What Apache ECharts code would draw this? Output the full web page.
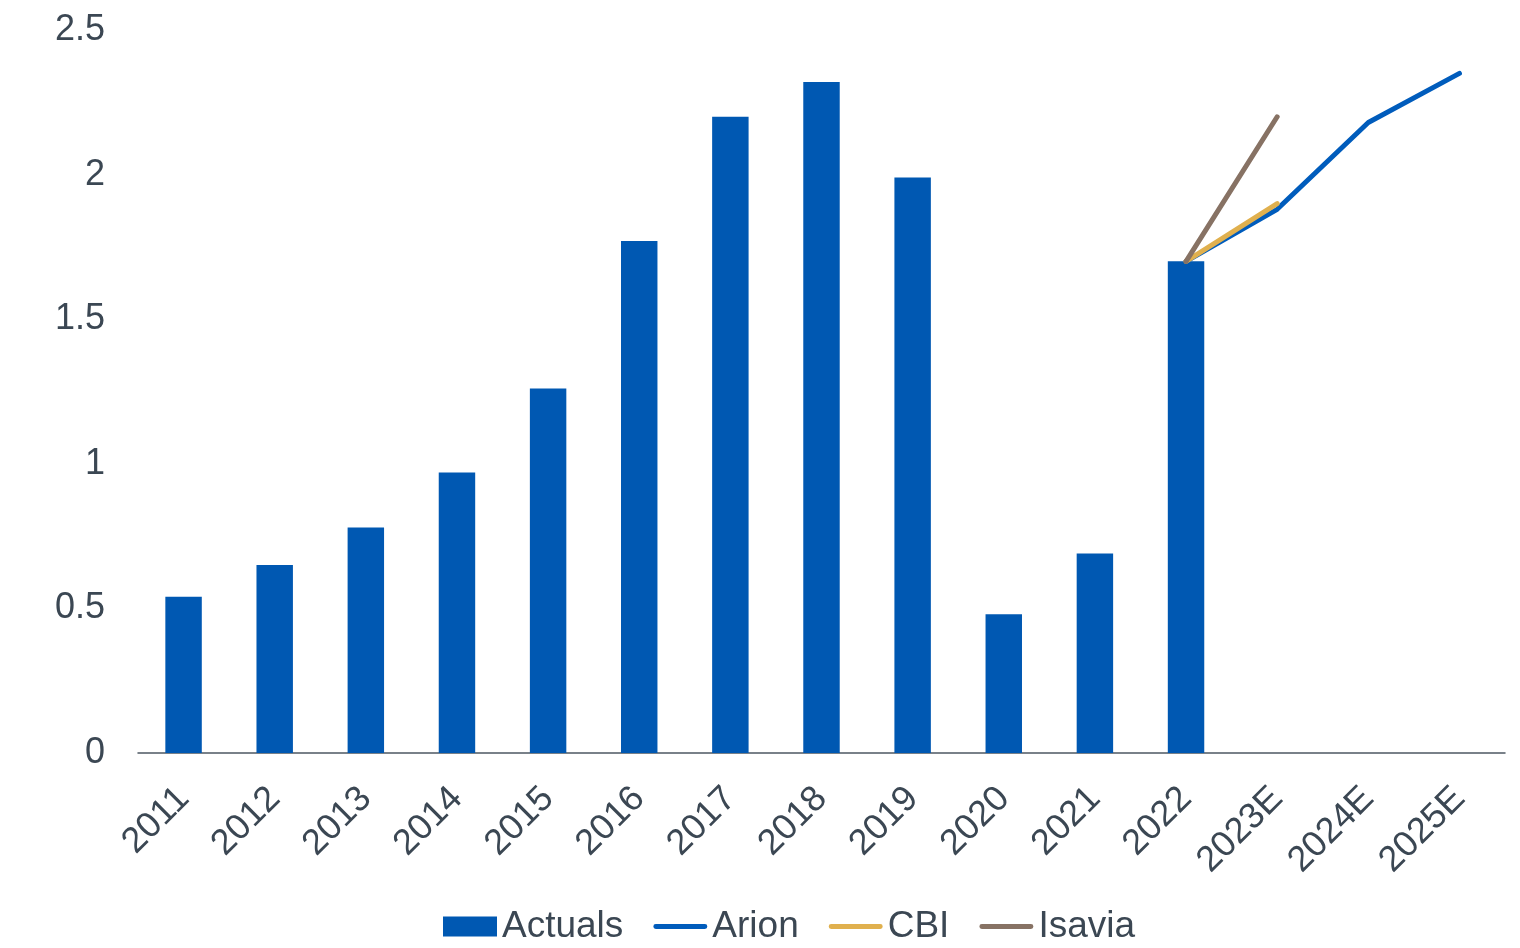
<!DOCTYPE html>
<html>
<head>
<meta charset="utf-8">
<script src="https://cdn.jsdelivr.net/npm/echarts@6/dist/echarts.min.js"></script>
<style>
  html, body { margin: 0; padding: 0; background: #ffffff; }
  #chart { width: 1520px; height: 948px; }
</style>
</head>
<body>
<div id="chart"></div>
<script>
// Passenger numbers (millions): actuals and forecasts
const categories = ['2011', '2012', '2013', '2014', '2015', '2016', '2017', '2018', '2019', '2020', '2021', '2022', '2023E', '2024E', '2025E'];
const actuals = [0.54, 0.65, 0.78, 0.97, 1.26, 1.77, 2.20, 2.32, 1.99, 0.48, 0.69, 1.70, null, null, null];
const arion   = [null, null, null, null, null, null, null, null, null, null, null, 1.70, 1.88, 2.18, 2.35];
const cbi     = [null, null, null, null, null, null, null, null, null, null, null, 1.70, 1.90, null, null];
const isavia  = [null, null, null, null, null, null, null, null, null, null, null, 1.70, 2.20, null, null];

const textColor = '#3b4753';
const fontFamily = 'Liberation Sans, Arial, sans-serif';
// thin bar with rounded ends used as the legend key for line series
const lineIcon = 'path://M2.5,0 L52.5,0 A2.5,2.5 0 0 1 52.5,5 L2.5,5 A2.5,2.5 0 0 1 2.5,0 Z';

const chart = echarts.init(document.getElementById('chart'), null, { renderer: 'canvas' });

function lineSeries(name, data, color) {
  return {
    name: name,
    type: 'line',
    data: data,
    symbol: 'none',
    connectNulls: false,
    lineStyle: { color: color, width: 5, cap: 'round', join: 'round' },
    itemStyle: { color: color },
    z: 3
  };
}

chart.setOption({
  animation: false,
  backgroundColor: '#ffffff',
  textStyle: { fontFamily: fontFamily },
  grid: { left: 138, right: 15, top: 30, bottom: 195, containLabel: false },
  legend: {
    bottom: 3,
    left: 443,
    padding: 0,
    itemGap: 30,
    itemWidth: 54,
    itemHeight: 20,
    symbolKeepAspect: true,
    textStyle: { color: textColor, fontSize: 37, fontFamily: fontFamily },
    data: [
      { name: 'Actuals', icon: 'rect' },
      { name: 'Arion', icon: lineIcon },
      { name: 'CBI', icon: lineIcon },
      { name: 'Isavia', icon: lineIcon }
    ]
  },
  xAxis: {
    type: 'category',
    data: categories,
    axisLine: { show: true, lineStyle: { color: '#4d5863', width: 1.5 } },
    axisTick: { show: false },
    axisLabel: {
      color: textColor,
      fontSize: 36,
      rotate: 45,
      margin: 40,
      interval: 0,
      fontFamily: fontFamily
    },
    splitLine: { show: false }
  },
  yAxis: {
    type: 'value',
    min: 0,
    max: 2.5,
    interval: 0.5,
    axisLine: { show: false },
    axisTick: { show: false },
    splitLine: { show: false },
    axisLabel: {
      color: textColor,
      fontSize: 36,
      margin: 33,
      fontFamily: fontFamily
    }
  },
  series: [
    {
      name: 'Actuals',
      type: 'bar',
      data: actuals,
      barWidth: '40%',
      itemStyle: { color: '#0058b2' },
      z: 2
    },
    lineSeries('Arion', arion, '#005cbc'),
    lineSeries('CBI', cbi, '#e0b04e'),
    lineSeries('Isavia', isavia, '#877264')
  ]
});
</script>
</body>
</html>
